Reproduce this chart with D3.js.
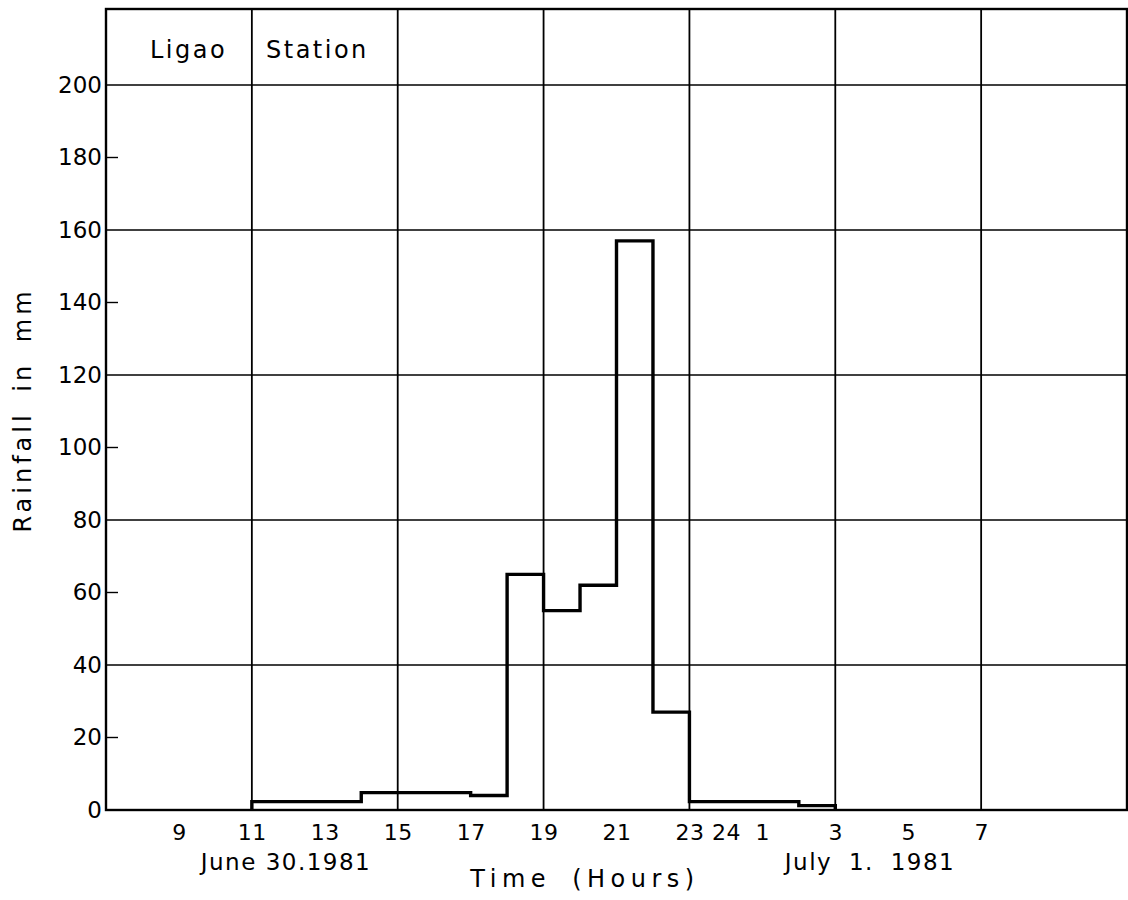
<!DOCTYPE html>
<html>
<head>
<meta charset="utf-8">
<script src="https://cdn.jsdelivr.net/npm/d3@7"></script>
<style>
  body { margin: 0; background: #fff; }
  svg text { font-family: "DejaVu Sans", sans-serif; fill: #000; }
</style>
</head>
<body>
<svg class="chart" width="1128" height="900"></svg>
<script>
const width = 1128;
const height = 900;

// 每小时降雨量 (mm)，阶梯起点（小时，24以后为次日）
const stepHours = [11, 14, 17, 18, 19, 20, 21, 22, 23, 26];
const rainfall  = [2.3, 4.8, 4, 65, 55, 62, 157, 27, 2.3, 1.2];
const stepEnd = 27;

// 坐标轴刻度
const xTickHours  = [9, 11, 13, 15, 17, 19, 21, 23, 24, 25, 27, 29, 31];
const xTickLabels = ["9", "11", "13", "15", "17", "19", "21", "23", "24", "1", "3", "5", "7"];
const xGridHours  = [11, 15, 19, 23, 27, 31];
const yTicks = [0, 20, 40, 60, 80, 100, 120, 140, 160, 180, 200];
const yGrid  = [40, 80, 120, 160, 200];

const svg = d3.select(".chart");

const plotLeft = 106, plotRight = 1127, plotTop = 9, plotBottom = 810;

const xScale = d3.scaleLinear().domain([7, 35]).range([plotLeft, plotRight]);
const yScale = d3.scaleLinear().domain([0, 200]).range([plotBottom, 85]);

// 网格线
svg.append("g").selectAll("line")
    .data(xGridHours)
    .enter().append("line")
    .attr("x1", d => xScale(d)).attr("x2", d => xScale(d))
    .attr("y1", plotTop).attr("y2", plotBottom)
    .attr("stroke", "#000").attr("stroke-width", 1.8);

svg.append("g").selectAll("line")
    .data(yGrid)
    .enter().append("line")
    .attr("x1", plotLeft).attr("x2", plotRight)
    .attr("y1", d => yScale(d)).attr("y2", d => yScale(d))
    .attr("stroke", "#000").attr("stroke-width", 1.5);

// 边框
svg.append("rect")
    .attr("x", plotLeft).attr("y", plotTop)
    .attr("width", plotRight - plotLeft).attr("height", plotBottom - plotTop)
    .attr("fill", "none").attr("stroke", "#000").attr("stroke-width", 2.4);

// y轴
const yAxis = d3.axisLeft(yScale)
    .tickValues(yTicks)
    .tickSize(0)
    .tickPadding(4);
const gy = svg.append("g")
    .attr("transform", `translate(${plotLeft}, 0)`)
    .call(yAxis);
gy.select(".domain").remove();
gy.selectAll("text")
    .style("font-size", "23px")
    .style("letter-spacing", "0px");

// y轴内侧小刻度
svg.append("g").selectAll("line")
    .data(yTicks.filter(d => d > 0 && !yGrid.includes(d)))
    .enter().append("line")
    .attr("x1", plotLeft).attr("x2", plotLeft + 12)
    .attr("y1", d => yScale(d)).attr("y2", d => yScale(d))
    .attr("stroke", "#000").attr("stroke-width", 1.4);

// x轴
const xAxis = d3.axisBottom(xScale)
    .tickValues(xTickHours)
    .tickFormat((d, i) => xTickLabels[i])
    .tickSize(0)
    .tickPadding(14);
const gx = svg.append("g")
    .attr("transform", `translate(0, ${plotBottom})`)
    .call(xAxis);
gx.select(".domain").remove();
gx.selectAll("text")
    .style("font-size", "22px")
    .style("letter-spacing", "0.5px");

// 阶梯线
const points = [[11, 0]].concat(stepHours.map((h, i) => [h, rainfall[i]])).concat([[stepEnd, 0]]);
const line = d3.line()
    .x(d => xScale(d[0]))
    .y(d => yScale(d[1]))
    .curve(d3.curveStepAfter);
svg.append("path")
    .attr("d", line(points))
    .attr("fill", "none")
    .attr("stroke", "#000")
    .attr("stroke-width", 3.4)
    .attr("stroke-linejoin", "miter");

// 标题和标签
svg.append("text")
    .attr("x", 150).attr("y", 58)
    .style("font-size", "24px").style("letter-spacing", "2.5px")
    .text("Ligao");
svg.append("text")
    .attr("x", 266).attr("y", 58)
    .style("font-size", "24px").style("letter-spacing", "2.5px")
    .text("Station");

svg.append("text")
    .attr("x", 286).attr("y", 870)
    .style("text-anchor", "middle")
    .style("font-size", "23px").style("letter-spacing", "1.5px")
    .text("June 30.1981");
svg.append("text")
    .attr("x", 870).attr("y", 870)
    .style("text-anchor", "middle")
    .style("font-size", "23px").style("letter-spacing", "1.5px").style("word-spacing", "8px")
    .text("July 1. 1981");
svg.append("text")
    .attr("x", 585).attr("y", 887)
    .style("text-anchor", "middle")
    .style("font-size", "24px").style("letter-spacing", "5.5px").style("word-spacing", "8px")
    .text("Time (Hours)");

svg.append("text")
    .attr("transform", "rotate(-90)")
    .attr("x", -410).attr("y", 31)
    .style("text-anchor", "middle")
    .style("font-size", "24px").style("letter-spacing", "4px").style("word-spacing", "8px")
    .text("Rainfall in mm");
</script>
</body>
</html>
